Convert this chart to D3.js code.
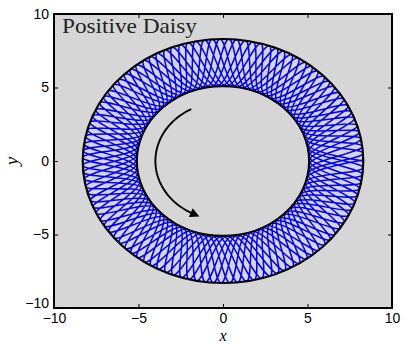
<!DOCTYPE html>
<html>
<head>
<meta charset="utf-8">
<script src="https://cdn.jsdelivr.net/npm/d3@7"></script>
<style>
  body { margin: 0; background: #fff; }
  .tick text { font-family: "Liberation Sans", Arial, sans-serif; font-size: 14px; fill: #000; }
</style>
</head>
<body>
<svg width="407" height="345"></svg>
<script>
// axis ticks
var xTicks = [-10, -5, 0, 5, 10];
var yTicks = [-10, -5, 0, 5, 10];

// annulus bounding the orbit
var innerRadius = 5.1;
var outerRadius = 8.3;

// orbit: angle (deg) from an outer turning point to the next inner one, and number of half swings
var apsisStep = 13.46;
var halfSwings = 214;

// direction arrow (radius, start and end angle in degrees)
var arrowRadius = 4;
var arrowAngles = [118, 244];

var title = 'Positive Daisy';

var svg = d3.select('svg');
var margin = { top: 14, right: 15, bottom: 37, left: 54 };
var width = svg.attr('width') - margin.left - margin.right;
var height = svg.attr('height') - margin.top - margin.bottom;

var g = svg.append('g')
    .attr('transform', 'translate(' + margin.left + ',' + margin.top + ')');

var xScale = d3.scaleLinear().domain([-10, 10]).range([0, width]);
var yScale = d3.scaleLinear().domain([-10, 10]).range([height, 0]);

g.append('rect')
    .attr('width', width)
    .attr('height', height)
    .attr('fill', '#d6d6d6');

// turning points of the orbit, alternating outer / inner
var apsides = d3.range(halfSwings + 1).map(function (i) {
    var a = i * apsisStep * Math.PI / 180;
    var r = i % 2 === 0 ? outerRadius : innerRadius;
    return [r * Math.cos(a), r * Math.sin(a)];
});

g.append('path')
    .datum(apsides)
    .attr('d', d3.line()
        .x(function (d) { return xScale(d[0]); })
        .y(function (d) { return yScale(d[1]); })
        .curve(d3.curveCatmullRom.alpha(0.5)))
    .attr('fill', 'none')
    .attr('stroke', '#0000ff')
    .attr('stroke-width', 1.5);

// bounding circles
[innerRadius, outerRadius].forEach(function (r) {
    g.append('ellipse')
        .attr('cx', xScale(0))
        .attr('cy', yScale(0))
        .attr('rx', xScale(r) - xScale(0))
        .attr('ry', yScale(0) - yScale(r))
        .attr('fill', 'none')
        .attr('stroke', '#000')
        .attr('stroke-width', 2.2);
});

// arrow
var arcPts = d3.range(arrowAngles[0], arrowAngles[1] + 0.5, 2).map(function (t) {
    var a = t * Math.PI / 180;
    return [arrowRadius * Math.cos(a), arrowRadius * Math.sin(a)];
});

svg.append('defs').append('marker')
    .attr('id', 'head')
    .attr('viewBox', '0 0 10 10')
    .attr('refX', 3)
    .attr('refY', 5)
    .attr('markerWidth', 6.5)
    .attr('markerHeight', 5)
    .attr('markerUnits', 'strokeWidth')
    .attr('orient', 'auto')
    .append('path')
    .attr('d', 'M0,0 L10,5 L0,10 z')
    .attr('fill', '#000');

g.append('path')
    .datum(arcPts)
    .attr('d', d3.line()
        .x(function (d) { return xScale(d[0]); })
        .y(function (d) { return yScale(d[1]); }))
    .attr('fill', 'none')
    .attr('stroke', '#000')
    .attr('stroke-width', 1.9)
    .attr('marker-end', 'url(#head)');

// axes, ticks pointing inward
g.append('g')
    .attr('transform', 'translate(0,' + height + ')')
    .call(d3.axisBottom(xScale).tickValues(xTicks).tickSize(-4).tickPadding(5).tickFormat(d3.format('')));
var yAxis = g.append('g')
    .call(d3.axisLeft(yScale).tickValues(yTicks).tickSize(-4).tickPadding(5).tickFormat(d3.format('')));
// lowest y label sits a little above the corner, as in the original
yAxis.selectAll('.tick text').filter(function (d) { return d === -10; }).attr('dy', '-0.05em');
g.append('g')
    .call(d3.axisTop(xScale).tickValues(xTicks).tickSize(-4).tickFormat(''));
g.append('g')
    .attr('transform', 'translate(' + width + ',0)')
    .call(d3.axisRight(yScale).tickValues(yTicks).tickSize(-4).tickFormat(''));

g.selectAll('.domain').remove();
g.selectAll('.tick line').attr('stroke', '#000').attr('stroke-width', 1);

g.append('rect')
    .attr('width', width)
    .attr('height', height)
    .attr('fill', 'none')
    .attr('stroke', '#000')
    .attr('stroke-width', 2);

g.append('text')
    .attr('x', 8)
    .attr('y', 19)
    .attr('font-family', '"Liberation Serif", "Times New Roman", serif')
    .attr('font-size', 21)
    .attr('textLength', 135)
    .attr('lengthAdjust', 'spacingAndGlyphs')
    .attr('fill', '#222')
    .text(title);

svg.append('text')
    .attr('x', margin.left + width / 2)
    .attr('y', 341)
    .attr('text-anchor', 'middle')
    .attr('font-family', '"Liberation Serif", serif')
    .attr('font-style', 'italic')
    .attr('font-size', 16)
    .text('x');

svg.append('text')
    .attr('transform', 'translate(18,' + (margin.top + height / 2) + ') rotate(-90)')
    .attr('text-anchor', 'middle')
    .attr('font-family', '"Liberation Serif", serif')
    .attr('font-style', 'italic')
    .attr('font-size', 19)
    .text('y');
</script>
</body>
</html>
